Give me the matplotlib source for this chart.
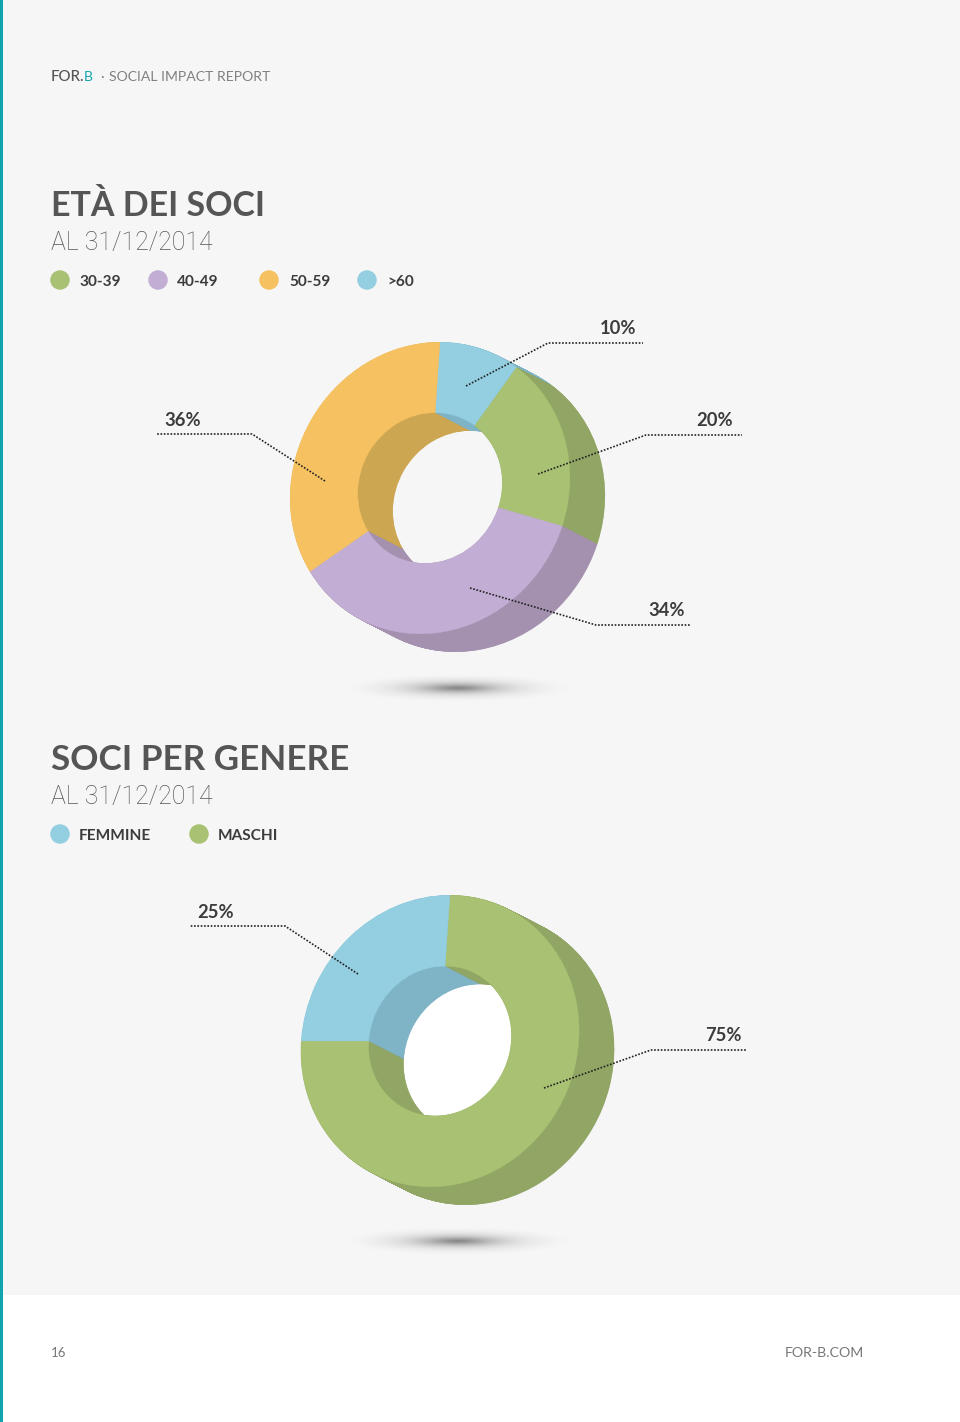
import numpy as np
import matplotlib
matplotlib.use("Agg")
import matplotlib.pyplot as plt
from matplotlib.patches import Wedge, Circle, Ellipse, Rectangle
from matplotlib.transforms import Affine2D

plt.rcParams['font.family'] = ['Lato', 'DejaVu Sans']

# Data, slice sizes as drawn in the picture (clockwise from the top)
age_labels = ["30-39", "40-49", "50-59", ">60"]
age_values = [9.5, 19.7, 36.1, 34.7]
gender_labels = ["FEMMINE", "MASCHI"]
gender_values = [75, 25]

GREEN, PURPLE, ORANGE, BLUE = "#a9c172", "#c2aed4", "#f6c261", "#93cee1"
GREEN_D, PURPLE_D, ORANGE_D, BLUE_D = "#91a564", "#a491af", "#cda651", "#7fb3c6"
TEAL = "#12a4ae"
BG = "#f6f6f6"
DARK = "#555555"
LABEL = "#3c3c3c"

fig = plt.figure(figsize=(9.6, 14.22), dpi=100, facecolor="white")
ax = fig.add_axes([0, 0, 1, 1])


def face(cx, cy, rx, ry):
    # unit circle to a slightly skewed ellipse, v axis points up on the page
    m = [[rx, 5, cx], [-5, -ry, cy], [0, 0, 1]]
    return Affine2D(np.array(m, dtype=float)) + ax.transData


def donut(values, colors, walls, cx, cy, rx, ry, inner, hole_color):
    edges = 88 - np.cumsum([0] + list(values)) * 3.6
    dx, dy = 35, 18
    hole = Circle((0, 0), inner, fc=hole_color, ec="none", transform=face(cx, cy, rx, ry), zorder=2)
    ax.add_patch(hole)
    back_hole = Circle((0, 0), inner, fc="none", ec="none", transform=face(cx + dx, cy + dy, rx, ry), zorder=1)
    ax.add_patch(back_hole)
    hole.set_clip_path(back_hole)
    # depth is a stack of rings from back to front
    z = 3
    for t in np.linspace(1, 0.01, 70):
        tr = face(cx + dx * t, cy + dy * t, rx, ry)
        for i in range(len(values)):
            ax.add_patch(Wedge((0, 0), 1, edges[i + 1], edges[i], width=1 - inner, fc=walls[i],
                               ec=walls[i], lw=0.3, transform=tr, zorder=z))
        z += 0.01
    front = face(cx, cy, rx, ry)
    for i in range(len(values)):
        ax.add_patch(Wedge((0, 0), 1, edges[i + 1], edges[i], width=1 - inner, fc=colors[i],
                           ec=colors[i], lw=0.3, transform=front, zorder=5))


def shadow(cx, cy, w, h):
    xx, yy = np.meshgrid(np.linspace(-1, 1, 300), np.linspace(-1, 1, 60))
    r = np.sqrt(xx ** 2 + yy ** 2)
    img = np.zeros((60, 300, 4))
    img[..., :3] = 0.3
    img[..., 3] = 0.66 * np.exp(-(r * 2.8) ** 1.4) * np.clip((1 - r) * 4, 0, 1)
    ax.imshow(img, extent=[cx - w / 2, cx + w / 2, cy + h / 2, cy - h / 2], aspect="auto", zorder=1)


def leader(xs, ys):
    ax.plot(xs, ys, color="#222222", lw=1.2, ls=(0, (1, 1)), zorder=8)


def legend(dots, texts, labels, colors, y):
    for x, tx, lab, c in zip(dots, texts, labels, colors):
        ax.add_patch(Ellipse((x, y), 19.5, 19.5, fc=c, ec="none", zorder=3))
        ax.text(tx, y + 1.5, lab, fontsize=11.1, color=LABEL, va="center", ha="left", fontweight="bold")


def pct(x, y, s, ha):
    ax.text(x, y, s, fontsize=13.2, color=LABEL, ha=ha, va="baseline", fontweight="bold")


# page
ax.add_patch(Rectangle((0, 0), 960, 1295, fc=BG, ec="none", zorder=0))
ax.add_patch(Rectangle((0, 0), 3, 1422, fc=TEAL, ec="none", zorder=9))

# header
ax.text(51, 81, "FOR.", fontsize=10.8, color=DARK, va="baseline", fontweight=500)
ax.text(84, 81, "B", fontsize=10, color=TEAL, va="baseline")
ax.text(100, 81, "·", fontsize=10, color="#808080", va="baseline")
ax.text(109, 81, "SOCIAL IMPACT REPORT", fontsize=10.05, color="#808080", va="baseline")

# first chart
ax.text(51, 216, "ETÀ DEI SOCI", fontsize=24.5, fontweight="bold", color=DARK, va="baseline")
ax.text(51, 250, "AL 31/12/2014", fontsize=17.9, family="Roboto", fontweight="light", color=DARK, va="baseline")
legend([60, 158, 269, 367], [79, 177, 289, 387], age_labels, [GREEN, PURPLE, ORANGE, BLUE], 280)

donut(age_values, [BLUE, GREEN, PURPLE, ORANGE], [BLUE_D, GREEN_D, PURPLE_D, ORANGE_D],
      430, 488, 139.8, 145.7, 0.517, BG)
shadow(458, 688, 240, 30)
leader([466, 548, 643], [386, 343, 343])
leader([538, 646, 742], [474, 435, 435])
leader([470, 596, 691], [588, 625, 625])
leader([325, 252, 156], [481, 434, 434])
pct(636, 334, "10%", "right")
pct(733, 426, "20%", "right")
pct(685, 616, "34%", "right")
pct(164, 426, "36%", "left")

# second chart
ax.text(51, 770, "SOCI PER GENERE", fontsize=25.2, fontweight="bold", color=DARK, va="baseline")
ax.text(51, 804, "AL 31/12/2014", fontsize=17.9, family="Roboto", fontweight="light", color=DARK, va="baseline")
legend([60, 199], [79, 218], gender_labels, [BLUE, GREEN], 834)

donut(gender_values, [GREEN, BLUE], [GREEN_D, BLUE_D],
      440, 1041, 139, 145.7, 0.514, "white")
shadow(458, 1241, 240, 30)
leader([358, 285, 190], [974, 926, 926])
leader([544, 651, 747], [1088, 1050, 1050])
pct(197, 918, "25%", "left")
pct(742, 1041, "75%", "right")

# footer
ax.text(51, 1357, "16", fontsize=9.5, color="#777777", va="baseline")
ax.text(864, 1357, "FOR-B.COM", fontsize=10.2, color="#777777", ha="right", va="baseline")

ax.set_xlim(0, 960)
ax.set_ylim(1422, 0)
ax.axis("off")
fig.savefig("out.png", dpi=100, facecolor="white")
